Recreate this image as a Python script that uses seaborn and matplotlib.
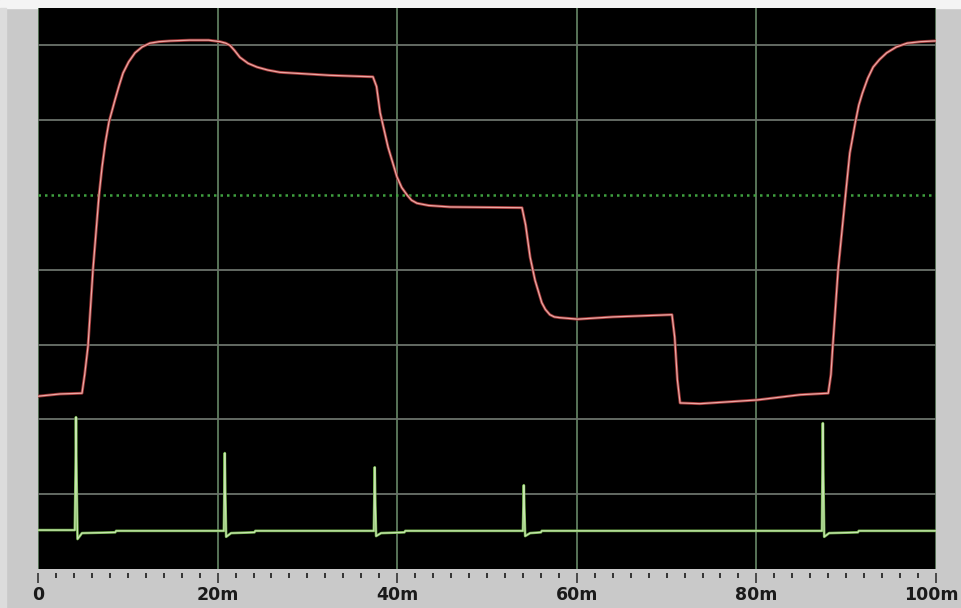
import matplotlib
matplotlib.use("Agg")
import matplotlib.pyplot as plt
from matplotlib.patches import Rectangle
from matplotlib.transforms import ScaledTranslation
import seaborn as sns
import pandas as pd

# Channel A trace (time in ms, level in divisions)
red_t = [0, 2.45, 4.9, 5.2, 5.57, 6.12, 6.79, 7.13, 7.5, 7.91, 8.57, 9.0, 9.47, 10.1,
         10.8, 11.6, 12.47, 13.5, 14.7, 16.9, 19.0, 20.27, 20.9, 21.38, 21.9, 22.49,
         23.4, 24.39, 25.6, 26.95, 32.5, 37.3, 37.7, 38.1, 38.98, 39.98, 40.5, 41.1,
         41.6, 42.2, 43.5, 45.9, 53.9, 54.3, 54.8, 55.35, 56.1, 56.5, 57.0, 57.5,
         58.1, 60.1, 64.0, 70.6, 70.9, 71.2, 71.5, 73.7, 80.1, 84.9, 88.0, 88.3,
         88.5, 89.1, 89.9, 90.4, 91.0, 91.4, 91.8, 92.4, 93.0, 93.7, 94.5, 95.6,
         96.8, 98.3, 100]
red_v = [2.31, 2.34, 2.35, 2.6, 2.98, 4.0, 4.99, 5.37, 5.7, 5.98, 6.27, 6.45, 6.63, 6.78,
         6.90, 6.98, 7.03, 7.05, 7.06, 7.07, 7.07, 7.05, 7.03, 7.0, 6.93, 6.84,
         6.76, 6.71, 6.67, 6.64, 6.60, 6.58, 6.45, 6.10, 5.64, 5.24, 5.1, 5.0,
         4.93, 4.89, 4.86, 4.84, 4.83, 4.6, 4.17, 3.86, 3.56, 3.47, 3.40, 3.37,
         3.36, 3.34, 3.37, 3.40, 3.1, 2.53, 2.22, 2.21, 2.26, 2.33, 2.35, 2.6,
         2.97, 4.0, 4.97, 5.56, 5.96, 6.2, 6.36, 6.56, 6.71, 6.81, 6.90, 6.98,
         7.03, 7.05, 7.06]

# Channel B trace (time in ms, level in divisions)
green_t = [0, 4.1, 4.18, 4.23, 4.3, 4.4, 4.9, 8.6, 8.7,
           20.7, 20.8, 20.87, 20.95, 21.5, 24.1, 24.2,
           37.4, 37.5, 37.57, 37.65, 38.2, 40.8, 40.9,
           54.0, 54.1, 54.17, 54.25, 54.8, 56.0, 56.1,
           87.3, 87.4, 87.47, 87.55, 88.1, 91.3, 91.4, 100]
green_v = [0.52, 0.52, 1.28, 2.03, 1.19, 0.40, 0.48, 0.49, 0.51,
           0.51, 1.55, 0.97, 0.43, 0.48, 0.49, 0.51,
           0.51, 1.36, 0.85, 0.44, 0.48, 0.49, 0.51,
           0.51, 1.12, 0.78, 0.44, 0.48, 0.49, 0.51,
           0.51, 1.95, 1.17, 0.43, 0.48, 0.49, 0.51, 0.51]

major_ticks = [0, 20, 40, 60, 80, 100]
tick_labels = ["0", "20m", "40m", "60m", "80m", "100m"]
minor_ticks = list(range(0, 101, 2))
h_grid = [1, 2, 3, 4, 5, 6, 7]
ref_level = 5

red_df = pd.DataFrame({"t": red_t, "v": red_v})
green_df = pd.DataFrame({"t": green_t, "v": green_v})

sns.set_style("dark")
plt.rcParams["font.family"] = ["DejaVu Sans"]

fig = plt.figure(figsize=(9.62, 6.08), dpi=100, facecolor="#c9c9c9")
ax = fig.add_axes([38 / 962, 39 / 608, 898 / 962, 561 / 608])
ax.set_facecolor("#000000")

# light strips of the instrument frame
fig.patches.append(Rectangle((0, 1 - 8 / 608), 1, 8 / 608, transform=fig.transFigure,
                             color="#f4f4f4", zorder=-1))
fig.patches.append(Rectangle((0, 0), 6 / 962, 1 - 8 / 608, transform=fig.transFigure,
                             color="#dcdcdc", zorder=-1))

# channel A: dark red halo with a pale pink core
sns.lineplot(data=red_df, x="t", y="v", ax=ax, sort=False, estimator=None,
             color="#9a3434", linewidth=2.1, zorder=3)
sns.lineplot(data=red_df, x="t", y="v", ax=ax, sort=False, estimator=None,
             color="#eaa8a4", linewidth=0.9, zorder=4)

# channel B
sns.lineplot(data=green_df, x="t", y="v", ax=ax, sort=False, estimator=None,
             color="#6fae4a", linewidth=1.9, zorder=3)
sns.lineplot(data=green_df, x="t", y="v", ax=ax, sort=False, estimator=None,
             color="#c8e6b0", linewidth=0.9, zorder=4)

ax.set_xlabel("")
ax.set_ylabel("")
ax.set_xlim(0, 100)
ax.set_ylim(0, 7.5)

for s in ax.spines.values():
    s.set_visible(False)
ax.spines["bottom"].set_position(("outward", 3))

ax.set_xticks(major_ticks)
ax.set_xticklabels(tick_labels)
ax.set_xticks(minor_ticks, minor=True)
ax.set_yticks(h_grid)
ax.set_yticklabels([])
ax.tick_params(axis="y", length=0, left=False)
ax.tick_params(axis="x", which="major", bottom=True, direction="out", length=7.5,
               width=1.2, color="#333333", pad=2, labelsize=12.5, labelcolor="#1a1a1a")
ax.tick_params(axis="x", which="minor", bottom=True, direction="out", length=3.5,
               width=1.4, color="#333333")
xlabels = ax.get_xticklabels()
for lab in xlabels:
    lab.set_fontweight("bold")
# keep the last label inside the frame
xlabels[-1].set_transform(xlabels[-1].get_transform()
                          + ScaledTranslation(-5 / 100, 0, fig.dpi_scale_trans))

ax.grid(True, which="major", axis="both", linewidth=1.3)
ax.grid(False, which="minor")
for gl in ax.get_xgridlines():
    gl.set_color("#5f7d5f")
for val, gl in zip(h_grid, ax.get_ygridlines()):
    gl.set_color("#6b736b")
    if val == ref_level:
        gl.set_color("#3fa03f")
        gl.set_linewidth(1.8)
        gl.set_dashes((1.0, 1.6))

fig.savefig("out.png", dpi=100, facecolor=fig.get_facecolor())
